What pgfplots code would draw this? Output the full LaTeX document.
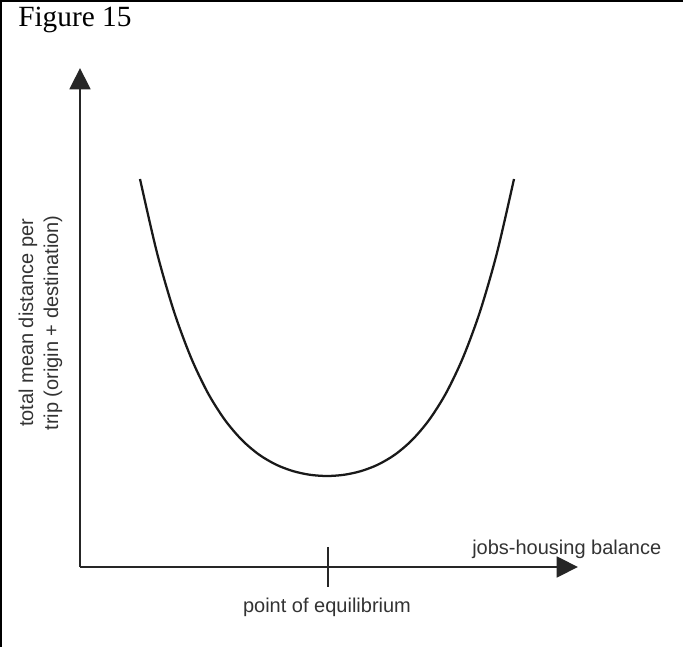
\documentclass[border=0pt]{standalone}
\usepackage{fontspec}
\setmainfont{Liberation Serif}
\newfontfamily\arial{Liberation Sans}
\usepackage{pgfplots}
\pgfplotsset{compat=1.18}
\usetikzlibrary{arrows.meta}

\begin{document}
\begin{tikzpicture}
  % one unit = one pixel of the 683x647 reference; origin at the axes' corner
  \begin{axis}[
    scale only axis,
    width=512.25pt, height=485.25pt,
    xmin=-80, xmax=603,
    ymin=-80, ymax=567,
    axis lines=none,
    clip=false,
  ]
  \coordinate (sw) at (rel axis cs:0,0);
  \coordinate (ne) at (rel axis cs:1,1);

  % frame (top and left edges)
  \addplot[black, line width=1.6pt] coordinates {(-78.8,-80) (-78.8,565.8) (603,565.8)};

  % axes
  \addplot[black!85, line width=2.2pt, -{Triangle[length=16pt,width=15.5pt]}]
    coordinates {(0,0) (0,499)};
  \addplot[black!85, line width=2.2pt, -{Triangle[length=16pt,width=15.5pt]}]
    coordinates {(0,0) (498,0)};
  % tick at the point of equilibrium
  \addplot[black!85, line width=1.6pt] coordinates {(248,20) (248,-20)};

  % U-shaped curve
  \addplot[black!90, line width=1.7pt, smooth] coordinates {
    (60,388) (77,314.2) (94,255.4) (111,209.4) (128,173.8) (145,146.9)
    (162,126.9) (179,112.4) (196,102.4) (213,95.9) (230,92.2) (247,91)
    (264,92.2) (281,95.9) (298,102.4) (315,112.4) (332,126.9) (349,146.9)
    (366,173.8) (383,209.4) (400,255.4) (417,314.2) (434,388)
  };

  % texts
  \node[anchor=base west, inner sep=0pt, font=\fontsize{22}{26}\selectfont]
    at (axis cs:-62,540) {Figure 15};
  \node[anchor=base west, inner sep=0pt, text=black!80, font=\arial\fontsize{15}{18}\selectfont]
    at (axis cs:392,12) {jobs-housing balance};
  \node[anchor=base, inner sep=0pt, text=black!80, font=\arial\fontsize{15}{18}\selectfont]
    at (axis cs:247,-46) {point of equilibrium};
  \node[rotate=90, anchor=base, inner sep=0pt, text=black!80, font=\arial\fontsize{15}{18}\selectfont]
    at (axis cs:-47,244) {total mean distance per};
  \node[rotate=90, anchor=base, inner sep=0pt, text=black!80, font=\arial\fontsize{15}{18}\selectfont]
    at (axis cs:-22,244) {trip (origin + destination)};
  \end{axis}
  \pgfresetboundingbox
  \path (sw) rectangle (ne);
\end{tikzpicture}
\end{document}
